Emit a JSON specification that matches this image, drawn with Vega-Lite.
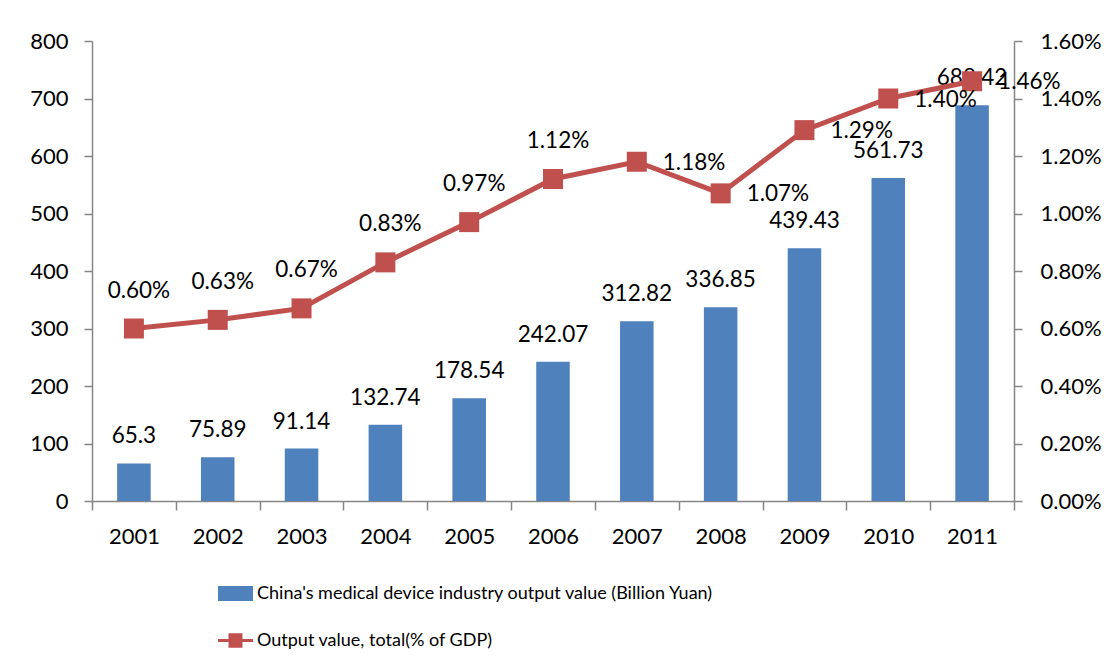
{
  "$schema": "https://vega.github.io/schema/vega-lite/v6.json",
  "width": 922,
  "height": 460,
  "autosize": {"type": "none"},
  "padding": {"left": 92, "top": 41, "right": 95, "bottom": 168},
  "background": "white",
  "config": {
    "view": {"stroke": null},
    "font": "Lato",
    "axis": {
      "labelFont": "Lato",
      "labelFontSize": 22,
      "labelColor": "black",
      "domainColor": "#868686",
      "tickColor": "#868686",
      "domainWidth": 1.5,
      "tickWidth": 1.5,
      "grid": false,
      "title": null
    }
  },
  "data": {
    "values": [
      {"year": "2001", "value": 65.3, "pct": 0.0060},
      {"year": "2002", "value": 75.89, "pct": 0.0063},
      {"year": "2003", "value": 91.14, "pct": 0.0067},
      {"year": "2004", "value": 132.74, "pct": 0.0083},
      {"year": "2005", "value": 178.54, "pct": 0.0097},
      {"year": "2006", "value": 242.07, "pct": 0.0112},
      {"year": "2007", "value": 312.82, "pct": 0.0118},
      {"year": "2008", "value": 336.85, "pct": 0.0107},
      {"year": "2009", "value": 439.43, "pct": 0.0129},
      {"year": "2010", "value": 561.73, "pct": 0.0140},
      {"year": "2011", "value": 688.42, "pct": 0.0146}
    ]
  },
  "encoding": {
    "x": {
      "field": "year",
      "type": "ordinal",
      "scale": {"paddingInner": 0, "paddingOuter": 0},
      "axis": {"labelAngle": 0, "tickBand": "extent", "tickSize": 9, "labelPadding": 16}
    }
  },
  "layer": [
    {
      "encoding": {
        "y": {"field": "value", "type": "quantitative", "scale": {"domain": [0, 800]}}
      },
      "layer": [
        {
          "mark": {"type": "bar", "width": {"band": 0.4}, "color": "#4F81BD"},
          "encoding": {
            "y": {
              "field": "value",
              "type": "quantitative",
              "scale": {"domain": [0, 800]},
              "axis": {"values": [0, 100, 200, 300, 400, 500, 600, 700, 800], "tickSize": 8, "labelPadding": 16}
            },
            "color": {
              "datum": "China's medical device industry output value (Billion Yuan)",
              "type": "nominal",
              "scale": {
                "domain": ["China's medical device industry output value (Billion Yuan)", "Output value, total(% of GDP)"],
                "range": ["#4F81BD", "#C0504D"]
              },
              "legend": {
                "orient": "none",
                "legendX": 126,
                "legendY": 535,
                "direction": "vertical",
                "title": null,
                "labelFont": "Lato",
                "labelFontSize": 18,
                "labelColor": "black",
                "labelLimit": 800,
                "labelOffset": 4,
                "symbolSize": 1225,
                "rowPadding": 20,
                "encode": {
                  "symbols": {
                    "update": {
                      "shape": {"signal": "datum.value === 'Output value, total(% of GDP)' ? 'M-1,-0.08H-0.4V-0.42H0.4V-0.08H1V0.08H0.4V0.42H-0.4V0.08H-1Z' : 'M-1,-0.43H1V0.43H-1Z'"},
                      "fill": {"scale": "color", "field": "value"},
                      "fillOpacity": {"value": 1},
                      "opacity": {"value": 1},
                      "strokeWidth": {"value": 0}
                    }
                  }
                }
              }
            }
          }
        },
        {
          "mark": {"type": "text", "baseline": "middle", "dy": -27, "fontSize": 22.5, "font": "Lato", "color": "black"},
          "encoding": {
            "text": {"field": "value", "type": "quantitative"}
          }
        }
      ]
    },
    {
      "encoding": {
        "y": {"field": "pct", "type": "quantitative", "scale": {"domain": [0, 0.016]}}
      },
      "layer": [
        {
          "mark": {"type": "line", "strokeWidth": 5, "color": "#C0504D"},
          "encoding": {
            "y": {
              "field": "pct",
              "type": "quantitative",
              "scale": {"domain": [0, 0.016]},
              "axis": {"orient": "right", "format": ".2%", "values": [0, 0.002, 0.004, 0.006, 0.008, 0.01, 0.012, 0.014, 0.016], "tickSize": 8, "labelPadding": 18}
            },
            "color": {"datum": "Output value, total(% of GDP)", "type": "nominal"}
          }
        },
        {
          "mark": {"type": "point", "shape": "square", "size": 400, "filled": true, "color": "#C0504D", "opacity": 1},
          "encoding": {}
        },
        {
          "transform": [{"filter": "datum.year <= '2006'"}],
          "mark": {"type": "text", "baseline": "middle", "align": "center", "dx": 5, "dy": -38, "fontSize": 22.5, "font": "Lato", "color": "black"},
          "encoding": {
            "text": {"field": "pct", "type": "quantitative", "format": ".2%"}
          }
        },
        {
          "transform": [{"filter": "datum.year > '2006'"}],
          "mark": {"type": "text", "baseline": "middle", "align": "left", "dx": 26, "dy": 1, "fontSize": 22.5, "font": "Lato", "color": "black"},
          "encoding": {
            "text": {"field": "pct", "type": "quantitative", "format": ".2%"}
          }
        }
      ]
    }
  ],
  "resolve": {"scale": {"y": "independent"}}
}
